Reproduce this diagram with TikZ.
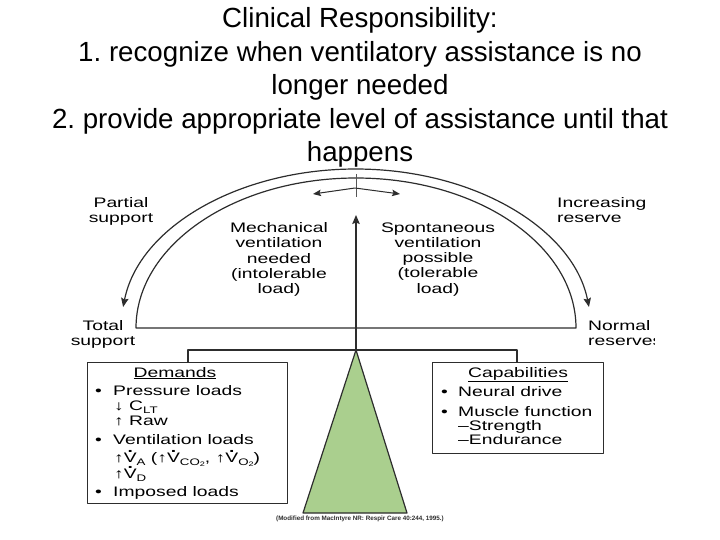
\documentclass[tikz,border=0pt]{standalone}
\usepackage{fontspec}
\setmainfont{Liberation Sans}
\newfontfamily\figfont[FakeStretch=1.4]{Liberation Sans}
\usetikzlibrary{arrows.meta}
\definecolor{ink}{RGB}{45,45,45}
\definecolor{leaf}{RGB}{170,207,142}
\frenchspacing
\newcommand\Vd{\ooalign{V\cr\hidewidth\raisebox{0.66em}[0pt][0pt]{\textbf{.}}\hidewidth\cr}}
\newcommand\sbs[1]{\raisebox{-0.22em}[0pt][0pt]{\fontsize{9.5}{10}\selectfont #1}}
\newcommand\ssbs[1]{\raisebox{-0.18em}[0pt][0pt]{\fontsize{6.5}{7}\selectfont #1}}
\begin{document}
\begin{tikzpicture}[x=1pt,y=-1pt,line join=round,
  >={Stealth[length=9pt,width=7.5pt,inset=1.5pt]},
  title/.style={font=\fontsize{27.7}{33.5}\selectfont, anchor=base, inner sep=0},
  lbl/.style={font=\figfont\fontsize{13.8}{15.2}\selectfont, inner sep=0, align=center},
  boxtxt/.style={font=\figfont\fontsize{13.8}{15.2}\selectfont, inner sep=0, anchor=base west},
  frame/.style={draw=ink, line width=1.4pt, inner sep=0, anchor=north west},
  wire/.style={draw=ink, line width=1.2pt}]
\useasboundingbox (0,0) rectangle (720,540);
% title
\node[title] (t1) at (360,28) {Clinical Responsibility:};
\node[title] (t2) at (360,61.5) {1. recognize when ventilatory assistance is no};
\node[title] (t3) at (360,95) {longer needed};
\node[title] (t4) at (360,128.5) {2. provide appropriate level of assistance until that};
\node[title] (t5) at (360,162) {happens};
% geometry
\coordinate (bL) at (136,328);
\coordinate (oL) at (123.1,307);
\coordinate (apex) at (356,350);
\coordinate (tipU) at (356,215);
\coordinate (bl) at (188,350);
\coordinate (br) at (517,350);
\coordinate (triL) at (303,513);
\coordinate (triR) at (407,513);
\coordinate (pt) at (356,174);
\coordinate (pb) at (356,197);
\coordinate (pl) at (313,194);
\coordinate (pm) at (355,188);
\coordinate (pr) at (400,194);
% arcs
\draw[wire] (bL) arc[start angle=180,end angle=0,x radius=220pt,y radius=150pt] -- cycle;
\draw[wire,<->] (oL) arc[start angle=172.4,end angle=7.6,x radius=235pt,y radius=159pt];
% pointer
\draw[draw=ink!80, line width=1pt] (pt) -- (pb);
\draw[wire, line width=1pt, {Stealth[length=8pt,width=6.5pt,inset=1.5pt]}-{Stealth[length=8pt,width=6.5pt,inset=1.5pt]}] (pl) -- (pm) -- (pr);
% boxes
\node[frame, minimum width=200pt, minimum height=141pt] (dem) at (87,362) {};
\node[frame, minimum width=171pt, minimum height=91pt] (cap) at (432,362) {};
\draw[wire] (dem.north -| bl) -- (bl) -- (br) -- (cap.north -| br);
% fulcrum
\draw[wire, fill=leaf] (apex) -- (triL) -- (triR) -- cycle;
\draw[wire, ->] (apex) -- (tipU);
% labels
\node[lbl, anchor=north] (mech) at (279,222.5) {Mechanical\\ventilation\\needed\\(intolerable\\load)};
\node[lbl, anchor=north] (spon) at (438,222.5) {Spontaneous\\ventilation\\possible\\(tolerable\\load)};
\node[lbl, anchor=north] (part) at (121,197.5) {Partial\\support};
\node[lbl, anchor=north west, align=left] (incr) at (557,197.5) {Increasing\\reserve};
\node[lbl, anchor=north] (tot) at (103,320.5) {Total\\support};
\begin{scope}
\clip (0,0) rectangle (654,540);
\node[lbl, anchor=north west, align=left] (norm) at (588,320.5) {Normal\\reserves};
\end{scope}
% demands
\node[boxtxt, anchor=base] (d0) at (175,377) {\underline{Demands}};
\node[boxtxt] (d1b) at (95,395) {•};
\node[boxtxt] (d1) at (113,395) {Pressure loads};
\node[boxtxt] (d2) at (114,410) {↓ C\sbs{LT}};
\node[boxtxt] (d3) at (114,425) {↑ Raw};
\node[boxtxt] (d4b) at (95,444) {•};
\node[boxtxt] (d4) at (113,444) {Ventilation loads};
\node[boxtxt] (d5) at (114,462) {↑\Vd\sbs{A} (↑\Vd\sbs{CO\ssbs{2}}, ↑\Vd\sbs{O\ssbs{2}})};
\node[boxtxt] (d6) at (114,478) {↑\Vd\sbs{D}};
\node[boxtxt] (d7b) at (95,496) {•};
\node[boxtxt] (d7) at (113,496) {Imposed loads};
% capabilities
\node[boxtxt, anchor=base] (c0) at (518,377) {\underline{Capabilities}};
\node[boxtxt] (c1b) at (441,396) {•};
\node[boxtxt] (c1) at (458,396) {Neural drive};
\node[boxtxt] (c2b) at (441,416) {•};
\node[boxtxt] (c2) at (458,416) {Muscle function};
\node[boxtxt] (c3) at (458,430) {–Strength};
\node[boxtxt] (c4) at (458,444) {–Endurance};
% source
\node[font=\fontsize{6.3}{6.5}\selectfont\bfseries, inner sep=0, text=ink] (src) at (360,519) {(Modified from MacIntyre NR: Respir Care 40:244, 1995.)};
\end{tikzpicture}
\end{document}
